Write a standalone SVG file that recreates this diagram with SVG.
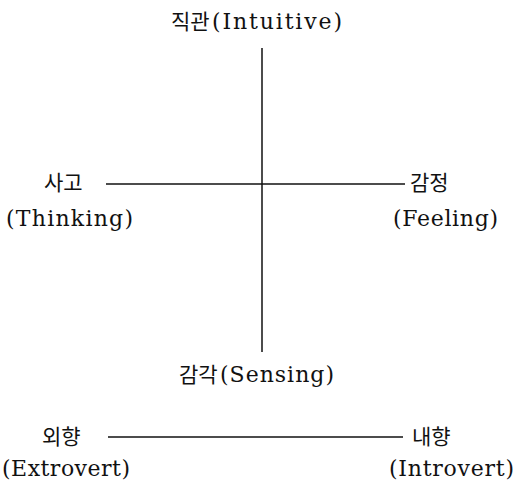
<svg xmlns="http://www.w3.org/2000/svg" width="519" height="483" viewBox="0 0 519 483">
<style>
.t{font-family:"DejaVu Serif","Liberation Serif","Noto Sans CJK KR",serif;font-size:22px;fill:#111}
.k{font-family:"Noto Sans CJK KR",sans-serif;font-size:21px;font-weight:400;fill:#111}
.ln{stroke:#111;stroke-width:1.5;fill:none}
</style>
<rect width="519" height="483" fill="#fff"/>
<g id="connectors">
<line class="ln" x1="262" y1="48" x2="262" y2="352"/>
<line class="ln" x1="106" y1="184" x2="405" y2="184"/>
<line class="ln" x1="108" y1="437" x2="403" y2="437"/>
</g>
<g id="intuitive">
<text class="k" x="171" y="29">직관</text>
<text class="t" x="212" y="29" textLength="130">(Intuitive)</text>
</g>
<g id="thinking">
<text class="k" x="44" y="190">사고</text>
<text class="t" x="6" y="226" textLength="127">(Thinking)</text>
</g>
<g id="feeling">
<text class="k" x="410" y="190">감정</text>
<text class="t" x="393" y="226" textLength="105">(Feeling)</text>
</g>
<g id="sensing">
<text class="k" x="179" y="382">감각</text>
<text class="t" x="220" y="382" textLength="114">(Sensing)</text>
</g>
<g id="extrovert">
<text class="k" x="42" y="444">외향</text>
<text class="t" x="2" y="476" textLength="128">(Extrovert)</text>
</g>
<g id="introvert">
<text class="k" x="412" y="444">내향</text>
<text class="t" x="389" y="476" textLength="125">(Introvert)</text>
</g>
</svg>
